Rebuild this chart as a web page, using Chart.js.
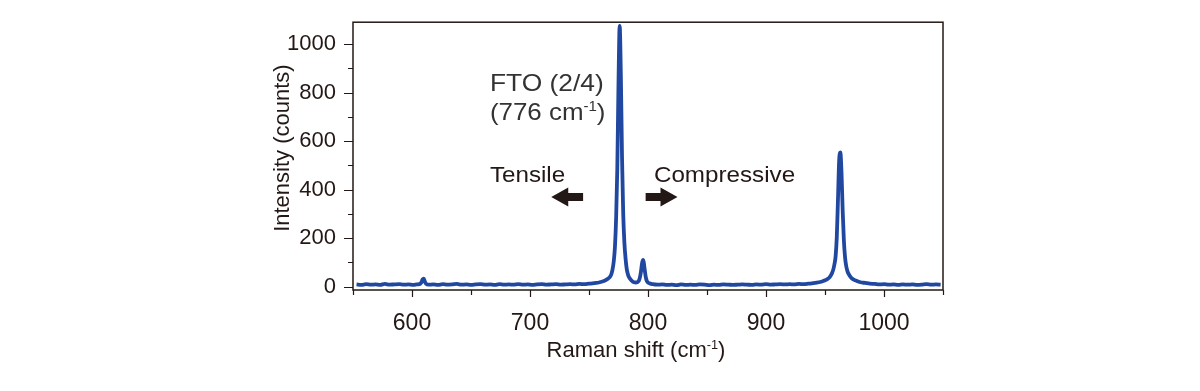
<!DOCTYPE html>
<html>
<head>
<meta charset="utf-8">
<script src="https://cdn.jsdelivr.net/npm/chart.js@4"></script>
<style>
  html, body { margin: 0; padding: 0; background: #fff; }
  #wrap { width: 1200px; height: 391px; }
</style>
</head>
<body>
<div id="wrap"><canvas id="ramanChart" width="1200" height="391"></canvas></div>
<script>
// Raman shift (cm-1) and intensity (counts)
const ramanShift = [
  553, 557, 561, 565, 569, 573, 577, 581, 585, 589,
  593, 597, 601, 604, 606, 607, 608, 609, 610, 611,
  612, 614, 618, 622, 626, 630, 634, 638, 642, 646,
  650, 654, 658, 662, 666, 670, 674, 678, 682, 686,
  690, 694, 698, 702, 706, 710, 714, 718, 722, 726,
  730, 734, 738, 742, 746, 750, 753, 756, 759, 762,
  764, 766, 768, 769, 770, 771, 772, 773, 774, 775,
  776, 777, 778, 779, 780, 781, 782, 783, 784, 786,
  788, 790, 792, 793, 794, 795, 796, 797, 798, 799,
  801, 804, 808, 812, 816, 820, 824, 828, 832, 836,
  840, 844, 848, 852, 856, 860, 864, 868, 872, 876,
  880, 884, 888, 892, 896, 900, 904, 908, 912, 916,
  920, 924, 928, 932, 936, 940, 943, 946, 949, 952,
  954, 956, 957, 958, 959, 960, 961, 962, 963, 964,
  965, 966, 967, 968, 969, 970, 972, 974, 977, 980,
  984, 988, 992, 996, 1000, 1004, 1008, 1012, 1016, 1020,
  1024, 1028, 1032, 1036, 1040, 1044, 1048
];
const intensity = [
  9, 7, 10, 8, 9, 7, 11, 8, 9, 10,
  8, 9, 7, 9, 10, 12, 18, 30, 33, 19,
  11, 8, 9, 7, 10, 8, 9, 11, 8, 9,
  7, 9, 10, 8, 9, 7, 10, 8, 9, 8,
  10, 8, 9, 7, 9, 10, 8, 9, 10, 8,
  9, 10, 9, 11, 10, 12, 13, 15, 18, 22,
  26, 32, 42, 52, 72, 105, 165, 285, 490, 840,
  1075, 870, 530, 300, 180, 115, 72, 50, 38, 25,
  18, 17, 22, 35, 60, 98, 110, 78, 42, 23,
  14, 10, 8, 9, 7, 8, 6, 9, 7, 8,
  7, 9, 8, 6, 8, 7, 9, 8, 7, 8,
  9, 8, 7, 9, 8, 10, 8, 9, 10, 9,
  10, 9, 11, 10, 12, 14, 16, 19, 24, 31,
  39, 56, 70, 92, 125, 205, 360, 520, 553, 470,
  310, 190, 120, 84, 64, 52, 38, 30, 23, 18,
  15, 12, 11, 9, 10, 8, 9, 7, 9, 8,
  9, 7, 8, 10, 8, 9, 8
];

const xMajorTicks = [600, 700, 800, 900, 1000];
const xMinorTicks = [550, 650, 750, 850, 950, 1050];
const yMajorTicks = [0, 200, 400, 600, 800, 1000];
const yMinorTicks = [100, 300, 500, 700, 900];

const INK = '#231815';
const BLUE = '#2148a0';
const FONT = '"Liberation Sans", Arial, Helvetica, sans-serif';

// text and arrow positions, in data units
const notes = {
  fto1: { x: 666, y: 807 },
  fto2: { x: 666, y: 686 },
  tensile: { x: 666, y: 430 },
  compressive: { x: 805, y: 430 },
  arrowLeft: { from: 745, to: 718, y: 369 },
  arrowRight: { from: 798, to: 825, y: 369 }
};

function richWidth(ctx, parts, size) {
  let w = 0;
  parts.forEach(p => {
    ctx.font = (p[1] ? size * 0.58 : size) + 'px ' + FONT;
    w += ctx.measureText(p[0]).width;
  });
  return w;
}

function drawRich(ctx, parts, x, y, size, color, stretch) {
  ctx.save();
  ctx.translate(x, y);
  ctx.scale(stretch || 1, 1);
  ctx.fillStyle = color;
  ctx.textBaseline = 'alphabetic';
  ctx.textAlign = 'left';
  let cx = 0;
  parts.forEach(p => {
    const sup = p[1];
    ctx.font = (sup ? size * 0.58 : size) + 'px ' + FONT;
    ctx.fillText(p[0], cx, sup ? -size * 0.38 : 0);
    cx += ctx.measureText(p[0]).width;
  });
  ctx.restore();
}

function arrow(ctx, x0, x1, y) {
  const dir = x1 > x0 ? 1 : -1;
  const head = 17, halfHead = 9.5, halfShaft = 4;
  const neck = x1 - dir * head;
  ctx.beginPath();
  ctx.moveTo(x0, y - halfShaft);
  ctx.lineTo(neck, y - halfShaft);
  ctx.lineTo(neck, y - halfHead);
  ctx.lineTo(x1, y);
  ctx.lineTo(neck, y + halfHead);
  ctx.lineTo(neck, y + halfShaft);
  ctx.lineTo(x0, y + halfShaft);
  ctx.closePath();
  ctx.fillStyle = INK;
  ctx.fill();
}

const framePlugin = {
  id: 'frame',
  afterDraw(chart) {
    const { ctx, chartArea: a, scales: { x, y } } = chart;
    ctx.save();
    ctx.strokeStyle = INK;
    ctx.lineWidth = 1.5;
    ctx.strokeRect(a.left, a.top, a.right - a.left, a.bottom - a.top);

    ctx.lineWidth = 1.2;
    ctx.beginPath();
    xMajorTicks.concat(xMinorTicks).forEach(v => {
      const px = Math.round(x.getPixelForValue(v)) + 0.5;
      const len = xMajorTicks.includes(v) ? 7 : 5;
      ctx.moveTo(px, a.bottom);
      ctx.lineTo(px, a.bottom + len);
    });
    yMajorTicks.concat(yMinorTicks).forEach(v => {
      const py = Math.round(y.getPixelForValue(v)) + 0.5;
      const len = yMajorTicks.includes(v) ? 9 : 5;
      ctx.moveTo(a.left, py);
      ctx.lineTo(a.left - len, py);
    });
    ctx.stroke();

    // axis titles
    const xt = [['Raman shift (cm', false], ['-1', true], [')', false]];
    const xw = richWidth(ctx, xt, 22);
    drawRich(ctx, xt, (a.left + a.right) / 2 - 12 - xw / 2, 357, 22, INK);

    ctx.translate(289, (a.top + a.bottom) / 2 - 8);
    ctx.rotate(-Math.PI / 2);
    ctx.font = '22px ' + FONT;
    ctx.fillStyle = INK;
    ctx.textAlign = 'center';
    ctx.textBaseline = 'alphabetic';
    ctx.fillText('Intensity (counts)', 0, 0);
    ctx.restore();

    // annotations
    ctx.save();
    const px = v => x.getPixelForValue(v);
    const py = v => y.getPixelForValue(v);
    drawRich(ctx, [['FTO (2/4)', false]], px(notes.fto1.x), py(notes.fto1.y), 24, '#333', 1.1);
    drawRich(ctx, [['(776 cm', false], ['-1', true], [')', false]], px(notes.fto2.x), py(notes.fto2.y), 24, '#333', 1.08);
    drawRich(ctx, [['Tensile', false]], px(notes.tensile.x), py(notes.tensile.y), 22, INK, 1.1);
    drawRich(ctx, [['Compressive', false]], px(notes.compressive.x), py(notes.compressive.y), 22, INK, 1.1);
    arrow(ctx, px(notes.arrowLeft.from), px(notes.arrowLeft.to), py(notes.arrowLeft.y));
    arrow(ctx, px(notes.arrowRight.from), px(notes.arrowRight.to), py(notes.arrowRight.y));
    ctx.restore();
  }
};

new Chart(document.getElementById('ramanChart'), {
  type: 'line',
  data: {
    datasets: [{
      data: ramanShift.map((v, i) => ({ x: v, y: intensity[i] })),
      borderColor: BLUE,
      borderWidth: 3.8,
      pointRadius: 0,
      cubicInterpolationMode: 'monotone',
      fill: false
    }]
  },
  options: {
    responsive: false,
    animation: false,
    devicePixelRatio: 1,
    layout: { padding: { left: 0, top: 22, right: 257, bottom: 0 } },
    plugins: { legend: { display: false }, tooltip: { enabled: false } },
    scales: {
      x: {
        type: 'linear',
        min: 550,
        max: 1050,
        afterBuildTicks: s => { s.ticks = xMajorTicks.map(v => ({ value: v })); },
        afterFit: s => { s.height = 101; },
        grid: { display: false },
        border: { display: false },
        ticks: { color: INK, padding: 12, maxRotation: 0, font: { family: FONT, size: 23 }, callback: v => String(v) }
      },
      y: {
        type: 'linear',
        min: -14,
        max: 1090,
        afterBuildTicks: s => { s.ticks = yMajorTicks.map(v => ({ value: v })); },
        afterFit: s => { s.width = 353; },
        grid: { display: false },
        border: { display: false },
        ticks: { color: INK, padding: 9, font: { family: FONT, size: 22 }, callback: v => String(v) }
      }
    }
  },
  plugins: [framePlugin]
});
</script>
</body>
</html>
